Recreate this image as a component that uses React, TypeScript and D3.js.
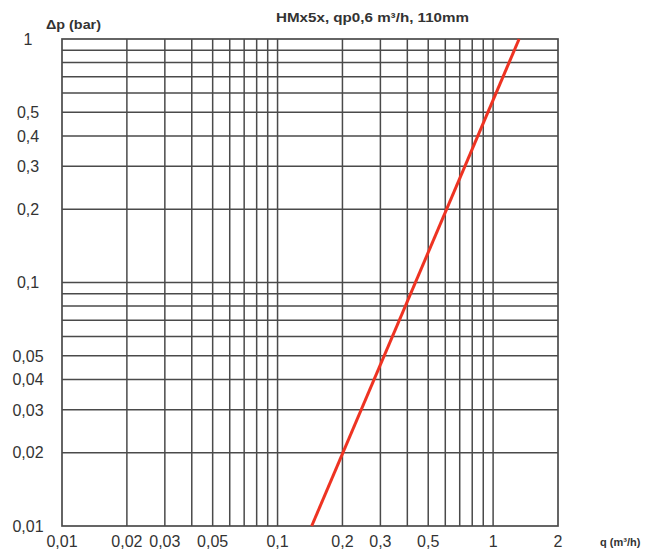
import React, { useEffect, useRef } from 'react';
import * as d3 from 'd3';

// chart values
const title = 'HMx5x, qp0,6 m³/h, 110mm';
const yTitle = 'Δp (bar)';
const xTitle = 'q (m³/h)';

const xGridValues = [0.02, 0.03, 0.04, 0.05, 0.06, 0.07, 0.08, 0.09, 0.1, 0.2, 0.3, 0.4, 0.5, 0.6, 0.7, 0.8, 0.9, 1];
const yGridValues = [0.02, 0.03, 0.04, 0.05, 0.06, 0.07, 0.08, 0.09, 0.1, 0.2, 0.3, 0.4, 0.5, 0.6, 0.7, 0.8, 0.9];

const xTickValues = [0.01, 0.02, 0.03, 0.05, 0.1, 0.2, 0.3, 0.5, 1, 2];
const yTickValues = [0.01, 0.02, 0.03, 0.04, 0.05, 0.1, 0.2, 0.3, 0.4, 0.5, 1];

// pressure loss line (two end points)
const flowQ = [0.144, 1.32];
const pressureDp = [0.01, 1];

const fmt = (v: number) => String(v).replace('.', ',');

const App = () => {
  const chartRef = useRef<SVGSVGElement | null>(null);

  useEffect(() => {
    const svg = d3.select(chartRef.current);
    svg.selectAll('*').remove();

    const left = 62;
    const right = 558;
    const top = 39;
    const bottom = 526;

    const x = d3.scaleLog().domain([0.01, 2]).range([left, right]);
    const y = d3.scaleLog().domain([0.01, 1]).range([bottom, top]);

    const gridColor = '#4a4a4a';
    const font = 'Liberation Sans, Arial, sans-serif';

    // vertical grid
    svg
      .append('g')
      .selectAll('line')
      .data(xGridValues)
      .enter()
      .append('line')
      .attr('x1', (d) => x(d))
      .attr('x2', (d) => x(d))
      .attr('y1', top)
      .attr('y2', bottom)
      .attr('stroke', gridColor)
      .attr('stroke-width', 1.5);

    // horizontal grid
    svg
      .append('g')
      .selectAll('line')
      .data(yGridValues)
      .enter()
      .append('line')
      .attr('x1', left)
      .attr('x2', right)
      .attr('y1', (d) => y(d))
      .attr('y2', (d) => y(d))
      .attr('stroke', gridColor)
      .attr('stroke-width', 1.5);

    // frame
    svg
      .append('rect')
      .attr('x', left)
      .attr('y', top)
      .attr('width', right - left)
      .attr('height', bottom - top)
      .attr('fill', 'none')
      .attr('stroke', gridColor)
      .attr('stroke-width', 1.7);

    // red curve
    const pts = flowQ.map((q, i) => [q, pressureDp[i]] as [number, number]);
    const line = d3
      .line<[number, number]>()
      .x((d) => x(d[0]))
      .y((d) => y(d[1]));
    svg
      .append('path')
      .attr('d', line(pts))
      .attr('fill', 'none')
      .attr('stroke', '#ee3322')
      .attr('stroke-width', 3);

    // x labels
    svg
      .append('g')
      .selectAll('text')
      .data(xTickValues)
      .enter()
      .append('text')
      .attr('x', (d) => x(d))
      .attr('y', 547)
      .attr('text-anchor', 'middle')
      .style('font-family', font)
      .style('font-size', '16px')
      .style('fill', '#333')
      .text((d) => fmt(d));

    // y labels
    svg
      .append('g')
      .selectAll('text')
      .data(yTickValues)
      .enter()
      .append('text')
      .attr('x', 28)
      .attr('y', (d) => y(d))
      .attr('dy', '0.36em')
      .attr('text-anchor', 'middle')
      .style('font-family', font)
      .style('font-size', '16px')
      .style('fill', '#333')
      .text((d) => fmt(d));

    // titles
    svg
      .append('text')
      .attr('x', 276)
      .attr('y', 22)
      .attr('textLength', 193)
      .attr('lengthAdjust', 'spacingAndGlyphs')
      .style('font-family', font)
      .style('font-size', '13px')
      .style('font-weight', 'bold')
      .style('fill', '#333')
      .text(title);

    svg
      .append('text')
      .attr('x', 46)
      .attr('y', 29)
      .attr('textLength', 55)
      .attr('lengthAdjust', 'spacingAndGlyphs')
      .style('font-family', font)
      .style('font-size', '12px')
      .style('font-weight', 'bold')
      .style('fill', '#333')
      .text(yTitle);

    svg
      .append('text')
      .attr('x', 600)
      .attr('y', 546)
      .style('font-family', font)
      .style('font-size', '11px')
      .style('font-weight', 'bold')
      .style('fill', '#333')
      .text(xTitle);
  }, []);

  return (
    <svg
      ref={chartRef}
      width={650}
      height={551}
      style={{ position: 'absolute', left: 0, top: 0, background: '#fff' }}
    />
  );
};

export default App;
